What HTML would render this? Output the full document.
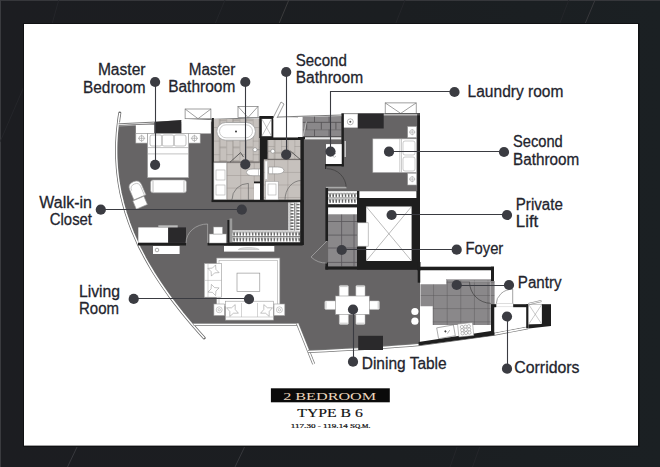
<!DOCTYPE html>
<html><head><meta charset="utf-8">
<style>
html,body{margin:0;padding:0;}
body{width:660px;height:467px;overflow:hidden;background:#1c1d21;position:relative;}
svg{position:absolute;left:0;top:0;}
.lb{font-family:"Liberation Sans",sans-serif;font-size:17.3px;fill:#23242d;stroke:#23242d;stroke-width:0.3px;}
.sr{font-family:"Liberation Serif",serif;}
</style></head>
<body>
<svg width="660" height="467" viewBox="0 0 660 467">
<defs>
 <pattern id="hangH" x="232.5" y="230.5" width="3.1" height="12" patternUnits="userSpaceOnUse">
  <rect width="3.1" height="12" fill="#fff"/>
  <path d="M0.6 0.8 L1.6 5.2 L2.4 0.8 M0.8 6.6 L1.6 10.8 L2.4 6.6" fill="none" stroke="#3a3a3a" stroke-width="0.75"/>
 </pattern>
 <pattern id="hangV" x="288.5" y="203" width="6" height="3.1" patternUnits="userSpaceOnUse">
  <rect width="6" height="3.1" fill="#fff"/>
  <path d="M0.8 0.6 L5.2 1.6 L0.8 2.4" fill="none" stroke="#3a3a3a" stroke-width="0.75"/>
 </pattern>
 <pattern id="hangF" x="328.5" y="192" width="3.1" height="12" patternUnits="userSpaceOnUse">
  <rect width="3.1" height="12" fill="#fff"/>
  <path d="M0.6 0.8 L1.6 5.2 L2.4 0.8 M0.8 6.6 L1.6 10.8 L2.4 6.6" fill="none" stroke="#3a3a3a" stroke-width="0.75"/>
 </pattern>
 <pattern id="bathUp" x="213.1" y="140.6" width="13.2" height="13.6" patternUnits="userSpaceOnUse">
  <rect width="13.2" height="13.6" fill="#c6c1bd"/>
  <path d="M0 0V13.6M6.6 0V13.6M0 0H6.6M6.6 6.8H13.2" stroke="#928c89" stroke-width="0.8"/>
 </pattern>
 <pattern id="bathLo" x="213.5" y="162.4" width="13.4" height="12.6" patternUnits="userSpaceOnUse">
  <rect width="13.4" height="12.6" fill="#c6c1bd"/>
  <path d="M0 0V12.6M0 0H13.4" stroke="#928c89" stroke-width="0.8"/>
 </pattern>
 <pattern id="bathUp2" x="268" y="146" width="13.2" height="13.6" patternUnits="userSpaceOnUse">
  <rect width="13.2" height="13.6" fill="#c6c1bd"/>
  <path d="M0 0V13.6M6.6 0V13.6M0 0H6.6M6.6 6.8H13.2" stroke="#928c89" stroke-width="0.8"/>
 </pattern>
 <pattern id="bathLo2" x="274" y="159.3" width="13.4" height="12.6" patternUnits="userSpaceOnUse">
  <rect width="13.4" height="12.6" fill="#c6c1bd"/>
  <path d="M0 0V12.6M0 0H13.4" stroke="#928c89" stroke-width="0.8"/>
 </pattern>
 <pattern id="bathTile" x="213" y="119" width="9" height="12" patternUnits="userSpaceOnUse">
  <rect width="9" height="12" fill="#c9c4c0"/>
  <path d="M0 0H9M0 0V12" stroke="#8d8785" stroke-width="0.8"/>
 </pattern>
 <pattern id="bathTile2" x="213" y="163" width="12" height="12" patternUnits="userSpaceOnUse">
  <rect width="12" height="12" fill="#c9c4c0"/>
  <path d="M0 0H12M0 0V12" stroke="#8d8785" stroke-width="0.8"/>
 </pattern>
 <pattern id="grayTile" x="328" y="214" width="14" height="16" patternUnits="userSpaceOnUse">
  <rect width="14" height="16" fill="#8a888a"/>
  <path d="M0 0H14M0 0V16" stroke="#5a585a" stroke-width="0.8"/>
 </pattern>
 <pattern id="kitTile" x="419.5" y="281.8" width="13.6" height="13.2" patternUnits="userSpaceOnUse">
  <rect width="13.6" height="13.2" fill="#8a888a"/>
  <path d="M0 0H13.6M0 0V13.2" stroke="#59575a" stroke-width="0.9"/>
 </pattern>
 <pattern id="brick" x="299.4" y="115.2" width="14.6" height="14.2" patternUnits="userSpaceOnUse">
  <rect width="14.6" height="14.2" fill="#8a888a"/>
  <path d="M0 0H14.6M0.4 0V7.1M0 7.1H14.6M7.3 7.1V14.2" stroke="#555355" stroke-width="0.9"/>
 </pattern>
</defs>

<!-- background veins -->
<defs><linearGradient id="bgG" x1="0" y1="0" x2="1" y2="0"><stop offset="0" stop-color="#1c1d21"/><stop offset="0.6" stop-color="#1b1e21"/><stop offset="1" stop-color="#1b2023"/></linearGradient></defs>
<rect x="0" y="0" width="660" height="467" fill="url(#bgG)"/>
<rect x="0" y="0" width="660" height="1" fill="#36373b"/>
<rect x="0" y="0" width="1" height="467" fill="#3a3b3f"/>
<g fill="none" stroke-width="0.9">
 <path d="M288.8 0 L278.8 24" stroke="#3e3e40"/>
 <path d="M595 0 L585 24" stroke="#3c3b3e"/>
 <path d="M225 0 L215 24" stroke="#26272b"/>
 <path d="M405 0 L395.5 24" stroke="#26272b"/>
 <path d="M568.8 0 L559.5 24" stroke="#26272b"/>
 <path d="M58.8 0 L52 24" stroke="#26272b"/>
 <path d="M24 86.4 L0 142" stroke="#26272b"/>
 <path d="M77.5 446 L67.5 467" stroke="#3a3b3f"/>
 <path d="M245 446 L235 467" stroke="#3a3b3f"/>
 <path d="M480 446 L472.5 467" stroke="#26272b"/>
 <path d="M457.5 446 L450 467" stroke="#26272b"/>
</g>

<!-- card -->
<rect x="23" y="23" width="616.5" height="424" fill="#101113"/>
<rect x="24" y="24" width="614" height="421.6" fill="#ffffff"/>

<!-- ===== main grey floor ===== -->
<path d="M118.2 124.5 L303 116 L420 113 L420 345 Q380 349 308 351 L297.5 323.5 L191.4 323.5 L188.1 319.5 L183.9 314.5 L179.9 309.5 L176.0 304.5 L172.3 299.5 L168.6 294.5 L165.0 289.5 L161.6 284.5 L158.3 279.5 L155.1 274.5 L152.0 269.5 L149.1 264.5 L146.2 259.5 L143.5 254.5 L141.0 249.5 L138.5 244.5 L136.2 239.5 L134.0 234.5 L132.0 229.5 L130.1 224.5 L128.3 219.5 L126.6 214.5 L125.1 209.5 L123.7 204.5 L122.4 199.5 L121.3 194.5 L120.2 189.5 L119.4 184.5 L118.6 179.5 L118.0 174.5 L117.4 169.5 L117.1 164.5 L116.8 159.5 L116.6 154.5 L116.6 149.5 L116.7 144.5 L116.9 139.5 L117.2 134.5 L117.6 129.5 L118.2 124.5 Z" fill="#666465"/>

<!-- left curved wall -->
<path d="M119.8 113.0 L119.0 118.0 L118.4 123.0 L117.8 128.0 L117.3 133.0 L117.0 138.0 L116.7 143.0 L116.6 148.0 L116.6 153.0 L116.7 158.0 L117.0 163.0 L117.3 168.0 L117.8 173.0 L118.4 178.0 L119.1 183.0 L120.0 188.0 L120.9 193.0 L122.1 198.0 L123.3 203.0 L124.7 208.0 L126.1 213.0 L127.8 218.0 L129.5 223.0 L131.4 228.0 L133.4 233.0 L135.6 238.0 L137.8 243.0 L140.2 248.0 L142.8 253.0 L145.4 258.0 L148.2 263.0 L151.1 268.0 L154.1 273.0 L157.3 278.0 L160.6 283.0 L164.0 288.0 L167.5 293.0 L171.1 298.0 L174.9 303.0 L178.8 308.0 L182.7 313.0 L186.8 318.0 L191.0 323.0 L195.3 328.0 L199.7 333.0 L204.2 338.0" fill="none" stroke="#6a6a6a" stroke-width="3" stroke-linecap="round" stroke-linejoin="round"/>
<path d="M119.8 113.0 L119.0 118.0 L118.4 123.0 L117.8 128.0 L117.3 133.0 L117.0 138.0 L116.7 143.0 L116.6 148.0 L116.6 153.0 L116.7 158.0 L117.0 163.0 L117.3 168.0 L117.8 173.0 L118.4 178.0 L119.1 183.0 L120.0 188.0 L120.9 193.0 L122.1 198.0 L123.3 203.0 L124.7 208.0 L126.1 213.0 L127.8 218.0 L129.5 223.0 L131.4 228.0 L133.4 233.0 L135.6 238.0 L137.8 243.0 L140.2 248.0 L142.8 253.0 L145.4 258.0 L148.2 263.0 L151.1 268.0 L154.1 273.0 L157.3 278.0 L160.6 283.0 L164.0 288.0 L167.5 293.0 L171.1 298.0 L174.9 303.0 L178.8 308.0 L182.7 313.0 L186.8 318.0 L191.0 323.0 L195.3 328.0 L199.7 333.0 L204.2 338.0" fill="none" stroke="#ffffff" stroke-width="1.5" stroke-linejoin="round"/>

<!-- top wall line -->
<path d="M118.5 123.8 L211 119.4 L303 116.2 L342 115" fill="none" stroke="#fff" stroke-width="2.4"/>
<path d="M118.5 123.8 L211 119.4 L303 116.2 L342 115" fill="none" stroke="#5a5a5a" stroke-width="0.8"/>
<path d="M118.5 126 L211 121.6 L303 118.4" fill="none" stroke="#b5b5b5" stroke-width="0.8"/>

<!-- master bedroom top: window seats / dark block -->
<rect x="135.8" y="125" width="18.7" height="8.5" fill="#fff"/>
<path d="M154.5 121.9 L181.5 120 L181.5 133.5 L154.5 133.5 Z" fill="#2a292b"/>
<rect x="181.5" y="120" width="29.4" height="13.5" fill="#fff"/>
<!-- window boxes -->
<g fill="#fff" stroke="#777" stroke-width="0.7">
 <rect x="185.1" y="109" width="25.8" height="9.7"/>
 <path d="M185.1 109 L198 118.7 L210.9 109" fill="none"/>
 <rect x="238" y="106.5" width="20" height="11"/>
 <path d="M238 106.5 L248 117.5 L258 106.5" fill="none"/>
 <rect x="385.2" y="102.9" width="31" height="10.5"/>
 <path d="M385.2 102.9 L400.7 113.4 L416.2 102.9" fill="none"/>
</g>
<path d="M273 118 L281 102 L284 104 L276 120" fill="#fff" stroke="#777" stroke-width="0.7"/>

<!-- night tables + bed -->
<g fill="#fff" stroke="#999" stroke-width="0.6">
 <rect x="135.8" y="133.5" width="11.6" height="9.6"/>
 <rect x="188.6" y="133.5" width="11.6" height="9.6"/>
 <rect x="147.6" y="133.5" width="41" height="44.2"/>
 <rect x="150.6" y="179.9" width="35.8" height="12.9" rx="2.5"/>
</g>
<g fill="none" stroke="#999" stroke-width="0.6">
 <circle cx="141.6" cy="138.3" r="2.6"/><path d="M138 138.3H145.2M141.6 134.7V141.9"/>
 <circle cx="194.4" cy="138.3" r="2.6"/><path d="M190.8 138.3H198M194.4 134.7V141.9"/>
 <rect x="150" y="135" width="12" height="11" rx="2"/>
 <rect x="162" y="135" width="12" height="11" rx="2"/>
 <rect x="174" y="135" width="12" height="11" rx="2"/>
 <path d="M147.6 147.6H188.6M147.6 153.9H188.6"/>
 <path d="M153 180.5V192.2M184 180.5V192.2"/>
</g>
<!-- chair -->
<g transform="translate(136.8,190) rotate(-23)" fill="#fff" stroke="#999" stroke-width="0.6">
 <path d="M-6.5 -3 Q-6.5 -9 0 -9 Q6.5 -9 6.5 -3 L6.5 8 L-6.5 8 Z"/>
 <path d="M-5 -1.5 Q-5 -6.5 0 -6.5 Q5 -6.5 5 -1.5 L5 7.5" fill="none" stroke="#aaa"/>
</g>
<g transform="translate(140.1,202.7) rotate(-23)" fill="#fff" stroke="#999" stroke-width="0.6">
 <rect x="-6" y="-4.5" width="12" height="9"/>
</g>

<!-- ===== master bathroom ===== -->
<rect x="211.7" y="118" width="2.2" height="84" fill="#1e1e1e"/>
<rect x="213.9" y="119" width="46" height="43.4" fill="url(#bathUp)"/>
<rect x="213.9" y="162.4" width="46" height="37.4" fill="url(#bathLo)"/>
<rect x="213.9" y="161.5" width="46" height="1.1" fill="#6d6866"/>
<rect x="216.8" y="122.5" width="38.6" height="17.7" rx="8.8" fill="#fff" stroke="#9a9a9a" stroke-width="0.8"/>
<rect x="219.5" y="124.8" width="33" height="13" rx="6.5" fill="#fff" stroke="#aaa" stroke-width="0.6"/>
<circle cx="236" cy="131.5" r="0.9" fill="#222"/>
<rect x="213.9" y="162.8" width="12.7" height="37" fill="#fff" stroke="#999" stroke-width="0.5"/>
<rect x="216" y="170" width="9" height="10" fill="none" stroke="#aaa" stroke-width="0.6"/>
<rect x="216" y="185" width="9" height="10" fill="none" stroke="#aaa" stroke-width="0.6"/>
<path d="M230 162.2 L240.6 152.6 L243.5 157" fill="none" stroke="#333" stroke-width="0.7"/>
<path d="M232 199.8 A16.4 16.4 0 0 1 248.4 183.4 V199.8" fill="none" stroke="#555" stroke-width="0.6"/>
<rect x="232" y="199.7" width="16.4" height="2.3" fill="#ddd"/>
<rect x="254" y="181.5" width="8.8" height="2" fill="#1e1e1e"/>
<rect x="254" y="183.5" width="8.8" height="16.3" fill="#fff"/>
<path d="M246.4 172.3 Q247 169 253 169 L262.8 169 L262.8 175.7 L253 175.7 Q247 175.7 246.4 172.3 Z" fill="#fff" stroke="#888" stroke-width="0.6"/>
<path d="M258.5 169V175.7" stroke="#999" stroke-width="0.5"/>
<circle cx="255" cy="149.7" r="2" fill="#fff" stroke="#777" stroke-width="0.5"/>
<path d="M257 149.7H260" stroke="#777" stroke-width="0.5"/>
<!-- shower box -->
<rect x="259.3" y="116" width="14.1" height="22" fill="#1e1e1e"/>
<rect x="261.8" y="118.9" width="9.7" height="17.3" fill="#fff"/>
<path d="M261.8 118.9 L271.5 136.2 M271.5 118.9 L261.8 136.2" stroke="#888" stroke-width="0.5"/>
<rect x="259.9" y="137" width="8.3" height="24.2" fill="#1e1e1e"/>
<rect x="260" y="161" width="3.8" height="41" fill="#1e1e1e"/>

<!-- ===== second bathroom ===== -->
<rect x="273.4" y="118" width="28.9" height="19.5" fill="#fff"/>
<rect x="267.6" y="137.7" width="35.7" height="2.3" fill="#1e1e1e"/>
<rect x="267.6" y="140" width="33.2" height="19.3" fill="url(#bathUp2)"/>
<rect x="263.8" y="159.3" width="37" height="40.5" fill="url(#bathLo2)"/>
<rect x="267.6" y="158.8" width="33.2" height="1" fill="#6d6866"/>
<rect x="300.8" y="137.7" width="2.5" height="64.3" fill="#1e1e1e"/>
<rect x="211.7" y="199.8" width="91.6" height="2.3" fill="#1e1e1e"/>
<rect x="265" y="161" width="2.6" height="18.5" fill="#fff" stroke="#aaa" stroke-width="0.4"/>
<rect x="265.7" y="181.5" width="12.5" height="18.3" fill="#fff" stroke="#999" stroke-width="0.5"/>
<rect x="268" y="184" width="8" height="11" fill="none" stroke="#aaa" stroke-width="0.6"/>
<path d="M284 170.4 Q283.4 167 277.4 167 L268.6 167 L268.6 173.8 L277.4 173.8 Q283.4 173.8 284 170.4 Z" fill="#fff" stroke="#888" stroke-width="0.6"/>
<path d="M272.6 167V173.8" stroke="#999" stroke-width="0.5"/>
<path d="M289.8 150.6 L301.3 160.3" stroke="#333" stroke-width="0.7"/>
<path d="M285 199.8 A16.3 19.3 0 0 1 301.3 180.5" fill="none" stroke="#555" stroke-width="0.6"/>
<circle cx="272.8" cy="151.2" r="2" fill="#fff" stroke="#777" stroke-width="0.5"/>
<path d="M268 151.2H270.8" stroke="#777" stroke-width="0.5"/>

<!-- brick (laundry wall) -->
<rect x="302.5" y="116.5" width="38.8" height="20.5" fill="url(#brick)"/>
<rect x="298" y="117" width="4.5" height="20" fill="#fff"/>
<path d="M306.4 121.6 L303.2 136.4" stroke="#ccc" stroke-width="0.8"/>
<rect x="305" y="137.3" width="36.5" height="2.1" fill="#e6e6e6"/>
<rect x="298" y="137" width="7" height="2" fill="#1e1e1e"/>
<rect x="300.6" y="137" width="3.2" height="108" fill="#1e1e1e"/>

<!-- walk in closet -->
<rect x="288.3" y="202.5" width="12" height="28" fill="url(#hangV)"/>
<rect x="294.5" y="202.5" width="5.8" height="28" fill="url(#hangV)" style="transform:translate(0,0)"/>
<rect x="232.3" y="230.3" width="68" height="12.2" fill="url(#hangH)"/>
<rect x="294.3" y="202.5" width="0.7" height="28" fill="#666"/>
<rect x="232.3" y="236" width="68" height="0.7" fill="#555"/>
<rect x="228" y="242.5" width="75.3" height="2.6" fill="#1e1e1e"/>
<rect x="300.3" y="201" width="3.2" height="44" fill="#1e1e1e"/>
<rect x="227.4" y="220" width="2.2" height="22.5" fill="#1e1e1e"/>
<rect x="229.6" y="218.5" width="2.6" height="24" fill="#9a9a9a"/>

<!-- living top row -->
<rect x="138.3" y="227.4" width="29.9" height="15.4" fill="#fff"/>
<rect x="168.2" y="227.4" width="17.8" height="15.4" fill="#2a292b"/>
<rect x="158.3" y="225.3" width="19.4" height="2.1" fill="#bbb"/>
<rect x="138" y="242.8" width="48" height="2.7" fill="#1e1e1e"/>
<path d="M186 243 A21.6 19 0 0 1 207.6 224 V243" fill="none" stroke="#bbb" stroke-width="0.6"/>
<rect x="207.6" y="242.8" width="95" height="2.7" fill="#1e1e1e"/>
<rect x="209.2" y="234" width="17" height="9" fill="#fff" stroke="#999" stroke-width="0.5"/>
<rect x="213.5" y="227" width="9" height="7" fill="#fff" stroke="#999" stroke-width="0.5"/>
<rect x="153" y="246" width="26.6" height="8" fill="#fff"/>
<circle cx="157" cy="250" r="1.8" fill="none" stroke="#777" stroke-width="0.6"/>
<rect x="224" y="246" width="50.3" height="5.6" fill="#fff"/>
<path d="M238.3 249.6 Q240 247.6 248.5 247.6 Q257 247.6 259.2 249.6 Z" fill="#ddd" stroke="#aaa" stroke-width="0.5"/>

<!-- living room -->
<rect x="216.8" y="258.1" width="63" height="48" fill="#fff" stroke="#aaa" stroke-width="0.6"/>
<rect x="219" y="260.3" width="58.6" height="44" fill="none" stroke="#aaa" stroke-width="0.6"/>
<rect x="237" y="273.1" width="22.8" height="18.3" fill="#fff" stroke="#888" stroke-width="0.6"/>
<rect x="204.3" y="263.5" width="17.3" height="33.7" fill="#fff" stroke="#999" stroke-width="0.6"/>
<path d="M208 264V297M204.3 280.4H221.6" stroke="#aaa" stroke-width="0.5"/>
<path d="M219.1 272.6 L214.6 272.9 L211.4 276.1 L211.1 271.6 L207.9 268.4 L212.4 268.1 L215.6 264.9 L215.9 269.4Z M219.1 287.9 L215.9 291.1 L215.6 295.6 L212.4 292.4 L207.9 292.1 L211.1 288.9 L211.4 284.4 L214.6 287.6Z" fill="#fff" stroke="#888" stroke-width="0.5"/>
<rect x="225.5" y="301.2" width="48.1" height="18.9" fill="#fff" stroke="#999" stroke-width="0.6"/>
<path d="M241.5 303V317M257.5 303V317M225.5 317H273.6" stroke="#aaa" stroke-width="0.5"/>
<path d="M238.4 313.2 L233.5 313.2 L229.8 316.4 L229.8 311.5 L226.6 307.8 L231.5 307.8 L235.2 304.6 L235.2 309.5Z M272.4 307.8 L269.2 311.5 L269.2 316.4 L265.5 313.2 L260.6 313.2 L263.8 309.5 L263.8 304.6 L267.5 307.8Z" fill="#fff" stroke="#888" stroke-width="0.5"/>
<g fill="#fff" stroke="#999" stroke-width="0.6">
 <rect x="213.9" y="304" width="10.6" height="11.5"/>
 <rect x="274" y="304" width="10.8" height="11.5"/>
</g>
<g fill="none" stroke="#999" stroke-width="0.5">
 <circle cx="219.2" cy="309.8" r="3"/><circle cx="219.2" cy="309.8" r="1.2"/>
 <circle cx="279.4" cy="309.8" r="3"/><circle cx="279.4" cy="309.8" r="1.2"/>
</g>

<!-- living bottom wall + angled walls -->
<path d="M193.7 324.5 L297.7 324.5" stroke="#777" stroke-width="3"/>
<path d="M193.7 324.5 L297.7 324.5" stroke="#fff" stroke-width="1.6"/>
<path d="M297.5 323.5 L313.7 364" stroke="#777" stroke-width="3"/>
<path d="M297.5 323.5 L313.7 364" stroke="#fff" stroke-width="1.6"/>
<path d="M308 351.5 Q380 348 420 344.5 L494 334.2 L528 327.8" fill="none" stroke="#777" stroke-width="3"/>
<path d="M308 351.5 Q380 348 420 344.5 L494 334.2 L528 327.8" fill="none" stroke="#fff" stroke-width="1.6"/>

<!-- ===== second bedroom ===== -->
<rect x="341.5" y="113.5" width="78.5" height="0.9" fill="#333"/>
<rect x="344" y="114.4" width="73.2" height="0.9" fill="#fff"/>
<rect x="341.5" y="113.5" width="2.4" height="53" fill="#1e1e1e"/>
<rect x="417.2" y="115.3" width="2.8" height="155" fill="#1e1e1e"/>
<rect x="343.9" y="114.4" width="13.9" height="13.2" fill="#fff"/>
<circle cx="350.3" cy="121.8" r="3" fill="none" stroke="#777" stroke-width="0.5"/>
<circle cx="350.3" cy="121.8" r="1" fill="#555"/>
<rect x="357.8" y="113.5" width="25.9" height="15" fill="#2a292b"/>
<g fill="#fff" stroke="#999" stroke-width="0.6">
 <rect x="372.8" y="138.8" width="43.9" height="33.8"/>
 <rect x="407.7" y="126.5" width="9" height="11.2"/>
 <rect x="407.7" y="173.2" width="9" height="11.8"/>
</g>
<g fill="none" stroke="#999" stroke-width="0.5">
 <path d="M399.8 138.8V172.6M401.5 138.8V172.6"/>
 <rect x="403" y="141" width="12" height="14" rx="2"/>
 <rect x="403" y="157" width="12" height="14" rx="2"/>
 <circle cx="412.2" cy="132.1" r="2.4"/><path d="M409 132.1H415.4M412.2 129V135.3"/>
 <circle cx="412.2" cy="179.1" r="2.4"/><path d="M409 179.1H415.4M412.2 176V182.3"/>
</g>
<!-- laundry box -->
<rect x="325.2" y="164" width="1" height="5" fill="#1e1e1e"/>
<rect x="326" y="144.1" width="15.7" height="19.9" fill="#fff"/>
<rect x="325.2" y="164" width="18.4" height="2.2" fill="#1e1e1e"/>
<path d="M336 154 A2 2 0 1 0 336 156" fill="none" stroke="#999" stroke-width="0.6"/>
<rect x="344.6" y="141" width="1.2" height="16" fill="#ddd"/>
<path d="M326.9 168.7 A19.3 19.3 0 0 1 346.2 188" fill="none" stroke="#333" stroke-width="0.6"/>
<rect x="326" y="186.8" width="20.5" height="1.6" fill="#aaa"/>

<!-- foyer / lift -->
<rect x="325.4" y="188" width="2.7" height="53" fill="#1e1e1e"/>
<rect x="325.4" y="262.5" width="2.7" height="7" fill="#1e1e1e"/>
<rect x="328.1" y="191.2" width="28.9" height="13.2" fill="url(#hangF)"/>
<rect x="328.1" y="197.6" width="28.9" height="0.6" fill="#555"/>
<rect x="328.1" y="204.4" width="29.3" height="3.1" fill="#1e1e1e"/>
<rect x="328.1" y="207.5" width="29" height="7.1" fill="#fff"/>
<rect x="328.1" y="214.6" width="29.2" height="52" fill="#8a888a"/>
<path d="M341.6 214.6V266.5M354 214.6V266.5M328.1 221.5H357.3M328.1 235.1H357.3M328.1 248H357.3M328.1 262.4H357.3" stroke="#59575a" stroke-width="0.8"/>
<rect x="357" y="191" width="62" height="78.6" fill="#1e1e1e"/>
<rect x="359.4" y="191.2" width="57" height="6.8" fill="#fff"/>
<rect x="366.2" y="206.5" width="45.4" height="54.5" fill="#fff"/>
<path d="M366.2 206.5 L411.6 261 M411.6 206.5 L366.2 261" stroke="#777" stroke-width="0.5"/>
<rect x="357.4" y="222.8" width="10.8" height="23.4" fill="#fff" stroke="#999" stroke-width="0.6"/>
<rect x="325.4" y="266.5" width="94.6" height="3.1" fill="#1e1e1e"/>
<path d="M327 241 L311 257 A22 22 0 0 0 327 263" fill="none" stroke="#bbb" stroke-width="0.6"/>
<path d="M303 230 A20 20 0 0 1 325 243" fill="none" stroke="#aaa" stroke-width="0"/>

<!-- dining -->
<g fill="#fff" stroke="#bbb" stroke-width="0.5">
 <rect x="339.3" y="285.4" width="9.1" height="11" rx="1.2"/>
 <rect x="355.9" y="285.4" width="9.1" height="11" rx="1.2"/>
 <rect x="339.3" y="314" width="9.1" height="10.4" rx="1.2"/>
 <rect x="355.9" y="314" width="9.1" height="10.4" rx="1.2"/>
 <rect x="324.8" y="300.9" width="11" height="8.5" rx="1.2"/>
 <rect x="369" y="300.9" width="10.4" height="8.5" rx="1.2"/>
</g>
<path d="M340 286.6H347.7M356.6 286.6H364.3M340 323.2H347.7M356.6 323.2H364.3M326 301.6V308.7M378.2 301.6V308.7" stroke="#aaa" stroke-width="0.6"/>
<rect x="335.5" y="296" width="33.8" height="18.3" fill="#fff" stroke="#999" stroke-width="0.6"/>
<rect x="358.2" y="335.8" width="24.8" height="14.2" fill="#2a292b"/>
<circle cx="414.9" cy="311.5" r="3.6" fill="#fff"/>
<circle cx="414.9" cy="321.2" r="3.6" fill="#fff"/>

<!-- ===== kitchen ===== -->
<rect x="417.7" y="262" width="2.8" height="20.7" fill="#1e1e1e"/>
<rect x="418.6" y="266.7" width="75.4" height="3.8" fill="#1e1e1e"/>
<rect x="491" y="266.7" width="3" height="15" fill="#1e1e1e"/>
<path d="M420.5 270.5 H446.3 V284.2 H420.5 Z" fill="#fff"/>
<rect x="446.3" y="270.5" width="44.5" height="8.5" fill="#fff"/>
<path d="M420.5 306.3 H432.7 V325.1 H490.8 V333 L420.5 344 Z" fill="#fff"/>
<path d="M420.5 284.2 H446.3 V279 H491 V281 H494.6 V304.2 H490.8 V325.1 H432.7 V306.3 H420.5 Z" fill="url(#kitTile)"/>
<path d="M446.3 279.6 H490.8" stroke="#b0aeb0" stroke-width="1.2"/>
<path d="M469.5 281.8 A21.5 21.5 0 0 0 491 303.3" fill="none" stroke="#333" stroke-width="0.6"/>
<path d="M469.5 281.8 H490.5 V303.3" fill="none" stroke="#b5b3b5" stroke-width="0.7"/>
<path d="M418.6 342 L491 331 L491 304.4 L494.5 304.4 L494.5 335.3 L418.6 345.5 Z" fill="#1e1e1e"/>
<g transform="translate(446,331.8) rotate(-10)" fill="#fff" stroke="#666" stroke-width="0.5">
 <rect x="-8.5" y="-5.5" width="17" height="11"/>
 <circle cx="-0.5" cy="-0.5" r="0.8" fill="#333"/>
 <path d="M1 2 L4 -1" />
</g>
<g transform="translate(465.7,329.8) rotate(-6)" fill="#fff" stroke="#777" stroke-width="0.45">
 <rect x="-7.5" y="-6.5" width="15" height="13"/>
 <circle cx="-3.5" cy="-3.2" r="1.6"/><circle cx="0" cy="-3.2" r="1.6"/><circle cx="3.5" cy="-3.2" r="1.6"/>
 <circle cx="-3.5" cy="0" r="1.6"/><circle cx="0" cy="0" r="1.6"/><circle cx="3.5" cy="0" r="1.6"/>
 <circle cx="-3.5" cy="3.2" r="1.6"/><circle cx="0" cy="3.2" r="1.6"/><circle cx="3.5" cy="3.2" r="1.6"/>
</g>

<!-- pantry door + corridor -->
<path d="M496.2 304.2 A16.5 15 0 0 1 512.7 289.2 V304.2" fill="none" stroke="#666" stroke-width="0.6"/>
<rect x="496.2" y="303.6" width="17" height="3.3" fill="#fff" stroke="#bbb" stroke-width="0.5"/>
<path d="M494.5 307.2 H526.2 V326.5 L494.5 332.5 Z" fill="#fff"/>
<rect x="491" y="304.2" width="5.2" height="3" fill="#1e1e1e"/>
<rect x="513.2" y="304.2" width="15.3" height="3" fill="#1e1e1e"/>
<rect x="526.2" y="304.2" width="2.3" height="24" fill="#1e1e1e"/>
<rect x="528.5" y="304.2" width="13.5" height="20.3" fill="#fff" stroke="#888" stroke-width="0.5"/>
<path d="M528.5 304.2 L542 324.5 M542 304.2 L528.5 324.5" stroke="#888" stroke-width="0.45"/>
<path d="M528.5 324.5 L542 324 L551 323 L551 326 L528.5 328.5 Z" fill="#1e1e1e"/>
<rect x="542" y="304.2" width="9" height="21.8" fill="#1e1e1e"/>
<path d="M528.5 304 L541.5 301" stroke="#888" stroke-width="2.2"/>
<path d="M528.5 304 L541.5 301" stroke="#fff" stroke-width="0.9"/>

<!-- ===== leader lines & dots ===== -->
<g stroke="#3a3b41" stroke-width="1.1" fill="none">
 <path d="M155.5 82 V164.8"/>
 <path d="M245.5 82 V164.4"/>
 <path d="M286.5 72 V154.6"/>
 <path d="M454.5 91.5 H330.5 V151.6"/>
 <path d="M389 151.5 H503.5"/>
 <path d="M391.6 214.5 H507"/>
 <path d="M341.7 249.5 H456.7"/>
 <path d="M456.7 285.5 H509"/>
 <path d="M100.8 209.5 H241.8"/>
 <path d="M133.7 298.5 H249"/>
 <path d="M353.5 309.5 V361.7"/>
 <path d="M507.5 316.8 V368.7"/>
</g>
<g fill="#3b3c42">
 <circle cx="155.1" cy="82" r="5.1"/><circle cx="155.1" cy="164.8" r="5.1"/>
 <circle cx="245.3" cy="82" r="5.1"/><circle cx="245.3" cy="164.4" r="5.1"/>
 <circle cx="286.2" cy="72" r="5.1"/><circle cx="286.2" cy="154.6" r="5.1"/>
 <circle cx="454.5" cy="92" r="5.1"/><circle cx="330.5" cy="151.6" r="5.1"/>
 <circle cx="389" cy="151.7" r="5.1"/><circle cx="504" cy="152" r="5.1"/>
 <circle cx="391.6" cy="215" r="5.1"/><circle cx="507" cy="215" r="5.1"/>
 <circle cx="341.7" cy="250" r="5.1"/><circle cx="456.7" cy="249.7" r="5.1"/>
 <circle cx="456.7" cy="285" r="5.1"/><circle cx="509" cy="285" r="5.1"/>
 <circle cx="100.8" cy="209.7" r="5.1"/><circle cx="241.8" cy="209.7" r="5.1"/>
 <circle cx="133.7" cy="298.9" r="5.1"/><circle cx="249" cy="299.1" r="5.1"/>
 <circle cx="353" cy="309.5" r="5.1"/><circle cx="353" cy="361.7" r="5.1"/>
 <circle cx="507" cy="316.5" r="5.1"/><circle cx="507" cy="368.7" r="5.1"/>
</g>

<!-- ===== labels ===== -->
<g class="lb">
 <text x="145.5" y="75" text-anchor="end" textLength="47.6" lengthAdjust="spacingAndGlyphs">Master</text>
 <text x="145.5" y="92.7" text-anchor="end" textLength="62.5" lengthAdjust="spacingAndGlyphs">Bedroom</text>
 <text x="235.3" y="74.7" text-anchor="end" textLength="46.6" lengthAdjust="spacingAndGlyphs">Master</text>
 <text x="235.3" y="91.7" text-anchor="end" textLength="67.1" lengthAdjust="spacingAndGlyphs">Bathroom</text>
 <text x="295.7" y="65.8" textLength="51.1" lengthAdjust="spacingAndGlyphs">Second</text>
 <text x="295.7" y="83.3" textLength="67.4" lengthAdjust="spacingAndGlyphs">Bathroom</text>
 <text x="467.6" y="97.3" textLength="95.8" lengthAdjust="spacingAndGlyphs">Laundry room</text>
 <text x="513.0" y="147" textLength="49.8" lengthAdjust="spacingAndGlyphs">Second</text>
 <text x="513.0" y="164.7" textLength="66.2" lengthAdjust="spacingAndGlyphs">Bathroom</text>
 <text x="515.8" y="210.1" textLength="47.0" lengthAdjust="spacingAndGlyphs">Private</text>
 <text x="515.8" y="227.3" textLength="22.5" lengthAdjust="spacingAndGlyphs">Lift</text>
 <text x="465.6" y="253.9" textLength="37.7" lengthAdjust="spacingAndGlyphs">Foyer</text>
 <text x="517.8" y="288.4" textLength="43.8" lengthAdjust="spacingAndGlyphs">Pantry</text>
 <text x="361.7" y="368.6" textLength="85.0" lengthAdjust="spacingAndGlyphs">Dining Table</text>
 <text x="514.3" y="373.3" textLength="65.2" lengthAdjust="spacingAndGlyphs">Corridors</text>
 <text x="92" y="207.5" text-anchor="end" textLength="52.7" lengthAdjust="spacingAndGlyphs">Walk-in</text>
 <text x="92" y="225.3" text-anchor="end" textLength="42.2" lengthAdjust="spacingAndGlyphs">Closet</text>
 <text x="79.0" y="296.7" textLength="41.1" lengthAdjust="spacingAndGlyphs">Living</text>
 <text x="79.0" y="314" textLength="40.0" lengthAdjust="spacingAndGlyphs">Room</text>
</g>

<!-- ===== title ===== -->
<rect x="270.9" y="388.3" width="118.9" height="14" fill="#0a0a0a"/>
<text x="283.2" y="399.7" class="sr" font-size="11.2" fill="#ead6bc" textLength="93" lengthAdjust="spacingAndGlyphs">2 BEDROOM</text>
<text x="297.3" y="416.9" class="sr" font-size="11.5" fill="#111" stroke="#111" stroke-width="0.15" textLength="65.6" lengthAdjust="spacingAndGlyphs">TYPE B 6</text>
<text x="290.8" y="427.8" class="sr" font-size="6.6" fill="#111" stroke="#111" stroke-width="0.2" textLength="79.4" lengthAdjust="spacingAndGlyphs">117.30 - 119.14 S<tspan font-size="5.2">Q.M.</tspan></text>
</svg>
</body></html>
